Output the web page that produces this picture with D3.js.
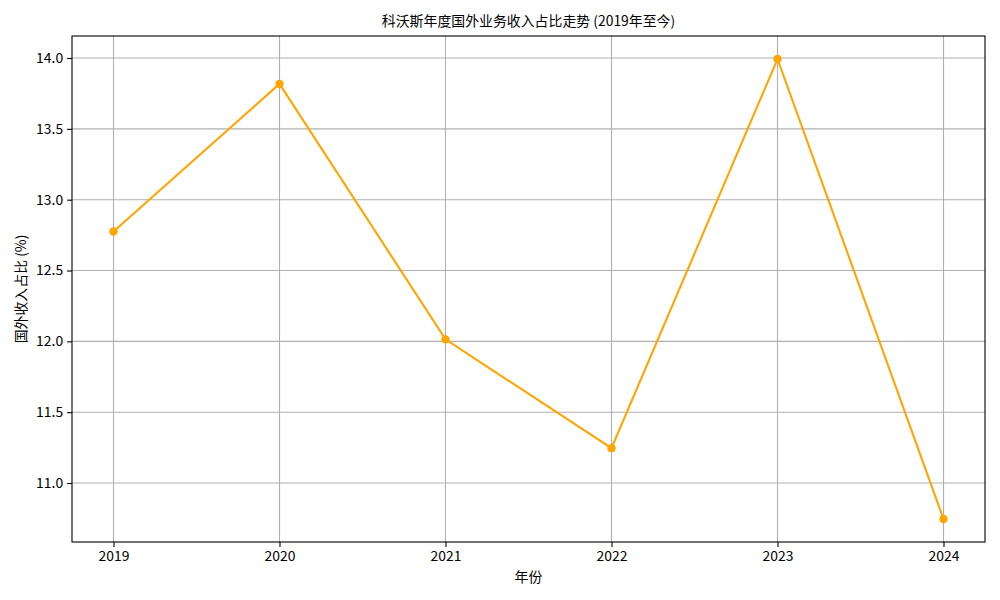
<!DOCTYPE html>
<html><head><meta charset="utf-8">
<script src="https://cdn.jsdelivr.net/npm/d3@7"></script>
<style>
body{margin:0;background:#fff;}
text{font-family:"Noto Sans CJK SC","Noto Sans",sans-serif;fill:#000;}
</style></head><body>
<svg id="chart" width="1000" height="600"></svg>
<script>
const years = [2019, 2020, 2021, 2022, 2023, 2024];
const shares = [12.775, 13.817, 12.014, 11.246, 13.993, 10.746];
const yTicks = [11.0, 11.5, 12.0, 12.5, 13.0, 13.5, 14.0];
const title = "科沃斯年度国外业务收入占比走势 (2019年至今)";
const xLabel = "年份";
const yLabel = "国外收入占比 (%)";

const W = 1000, H = 600;
const m = {l: 72, r: 15, t: 36, b: 58};
const svg = d3.select("#chart");
const pw = W - m.l - m.r, ph = H - m.t - m.b;
const fs = "13.9px";

const xmin = d3.min(years), xmax = d3.max(years);
const xpad = (xmax - xmin) * 0.05;
const ymin = d3.min(shares), ymax = d3.max(shares);
const ypad = (ymax - ymin) * 0.05;
const x = d3.scaleLinear().domain([xmin - xpad, xmax + xpad]).range([m.l, m.l + pw]);
const y = d3.scaleLinear().domain([ymin - ypad, ymax + ypad]).range([m.t + ph, m.t]);

const g = svg.append("g");
g.selectAll(".gx").data(years).enter().append("line")
  .attr("x1", d => x(d)).attr("x2", d => x(d)).attr("y1", m.t).attr("y2", m.t + ph)
  .attr("stroke", "#b0b0b0").attr("stroke-width", 1.1);
g.selectAll(".gy").data(yTicks).enter().append("line")
  .attr("y1", d => y(d)).attr("y2", d => y(d)).attr("x1", m.l).attr("x2", m.l + pw)
  .attr("stroke", "#b0b0b0").attr("stroke-width", 1.1);

const xAxis = d3.axisBottom(x).tickValues(years).tickFormat(d3.format("d")).tickSize(4.9).tickPadding(4);
const yAxis = d3.axisLeft(y).tickValues(yTicks).tickFormat(d3.format(".1f")).tickSize(4.9).tickPadding(4);
const gx = svg.append("g").attr("transform", `translate(0,${m.t + ph})`).call(xAxis);
const gy = svg.append("g").attr("transform", `translate(${m.l},0)`).call(yAxis);
[gx, gy].forEach(a => {
  a.select(".domain").remove();
  a.selectAll(".tick line").attr("stroke", "#000").attr("stroke-width", 1.1);
  a.selectAll(".tick text").style("font-size", fs).attr("fill", "#000");
});

const line = d3.line().x((d, i) => x(years[i])).y(d => y(d));
svg.append("path").datum(shares).attr("d", line)
  .attr("fill", "none").attr("stroke", "#FFA500").attr("stroke-width", 2.08);
svg.selectAll(".pt").data(shares).enter().append("circle")
  .attr("cx", (d, i) => x(years[i])).attr("cy", d => y(d)).attr("r", 4.2)
  .attr("fill", "#FFA500");

svg.append("rect").attr("x", m.l).attr("y", m.t).attr("width", pw).attr("height", ph)
  .attr("fill", "none").attr("stroke", "#000").attr("stroke-width", 1.1);

svg.append("text").attr("x", m.l + pw / 2).attr("y", 26).attr("text-anchor", "middle")
  .style("font-size", fs).text(title);
svg.append("text").attr("x", m.l + pw / 2).attr("y", 582).attr("text-anchor", "middle")
  .style("font-size", fs).text(xLabel);
svg.append("text").attr("transform", `translate(26,${m.t + ph / 2}) rotate(-90)`)
  .attr("text-anchor", "middle").style("font-size", fs).text(yLabel);
</script>
</body></html>
